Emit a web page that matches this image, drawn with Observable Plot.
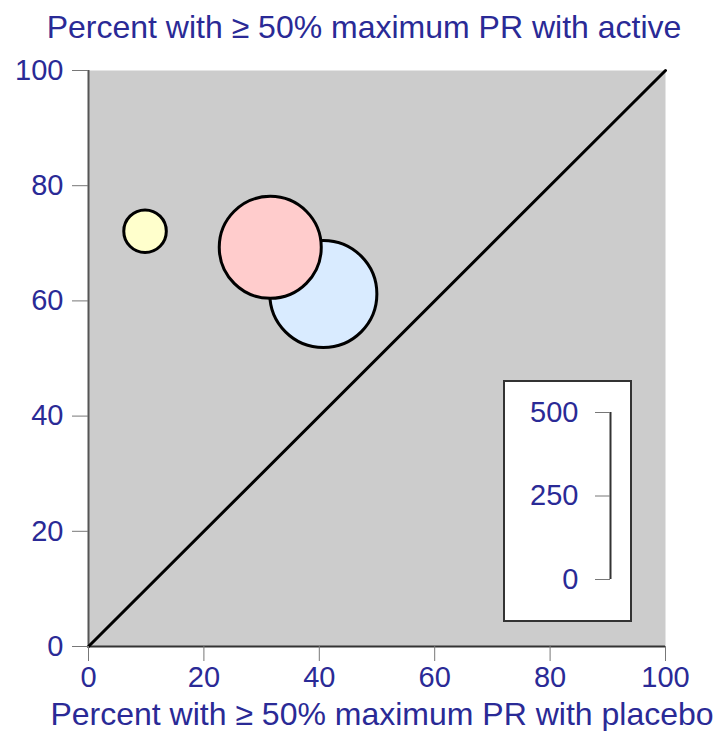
<!DOCTYPE html>
<html><head><meta charset="utf-8">
<script src="https://cdn.jsdelivr.net/npm/d3@7"></script>
<script src="https://cdn.jsdelivr.net/npm/@observablehq/plot@0.6"></script>
<style>
body{margin:0;background:#fff}
#wrap{position:relative;width:715px;height:731px}
#legend{position:absolute;left:503px;top:380px;width:129px;height:242px;box-sizing:border-box;border:2px solid #333;background:#fff}
#legend svg{display:block}
</style>
</head><body><div id="wrap"><div id="main"></div><div id="legend"></div></div>
<script>
const studies = ["Study A", "Study B", "Study C"];
const placebo = [9.8, 31.5, 40.7];
const active = [72.1, 69.3, 61.2];
const sampleSize = [60, 345, 380];
const fills = ["#ffffcc", "#ffcccc", "#d9ebff"];
const axisTicks = [0, 20, 40, 60, 80, 100];
const sizeTicks = [0, 250, 500];
const diagonal = [0, 100];
const yTitle = "Percent with \u2265 50% maximum PR with active";
const xTitle = "Percent with \u2265 50% maximum PR with placebo";

const textColor = "#2a2a96";
const font = "'Liberation Sans', Arial, sans-serif";
const data = studies.map((s, i) => ({study: s, placebo: placebo[i], active: active[i], n: sampleSize[i], fill: fills[i]}));

const main = Plot.plot({
  width: 715, height: 731,
  marginLeft: 88, marginRight: 50, marginTop: 70, marginBottom: 85,
  style: {fontFamily: font, fontSize: "29px", background: "white", overflow: "visible"},
  x: {domain: [0, 100]},
  y: {domain: [0, 100]},
  r: {type: "sqrt", domain: [0, 500], range: [0, 61.4]},
  color: {type: "identity"},
  marks: [
    Plot.frame({fill: "#cccccc", stroke: null}),
    Plot.ruleX([0], {stroke: "#555", strokeWidth: 2}),
    Plot.ruleY([0], {stroke: "#333", strokeWidth: 2}),
    Plot.line(diagonal.map(v => [v, v]), {stroke: "black", strokeWidth: 3}),
    Plot.dot(data, {x: "placebo", y: "active", r: "n", fill: "fill", stroke: "black", strokeWidth: 3}),
    Plot.axisY({ticks: axisTicks, tickSize: 16, tickPadding: 9, label: null, fill: textColor, stroke: "#777", fontSize: 29}),
    Plot.axisX({ticks: axisTicks, tickSize: 15, tickPadding: 5, label: null, fill: textColor, stroke: "#777", fontSize: 29}),
    Plot.text([yTitle], {text: d => d, frameAnchor: "top", dx: -13, dy: -33, lineAnchor: "bottom", fontSize: 32, fill: textColor}),
    Plot.text([xTitle], {text: d => d, frameAnchor: "bottom", dx: 5, dy: 78, lineAnchor: "bottom", fontSize: 32, fill: textColor})
  ]
});
document.getElementById("main").appendChild(main);

const legend = Plot.plot({
  width: 125, height: 238,
  marginLeft: 105, marginRight: 20, marginTop: 30, marginBottom: 41,
  style: {fontFamily: font, fontSize: "29px", background: "white", overflow: "visible"},
  x: {domain: [0, 1], axis: null},
  y: {domain: [0, 500]},
  marks: [
    Plot.ruleX([0], {y1: sizeTicks[0], y2: sizeTicks[sizeTicks.length - 1], stroke: "#333", strokeWidth: 2}),
    Plot.axisY({ticks: sizeTicks, tickSize: 15, tickPadding: 17, label: null, fill: textColor, stroke: "#777", fontSize: 29})
  ]
});
document.getElementById("legend").appendChild(legend);
</script>
</body></html>
